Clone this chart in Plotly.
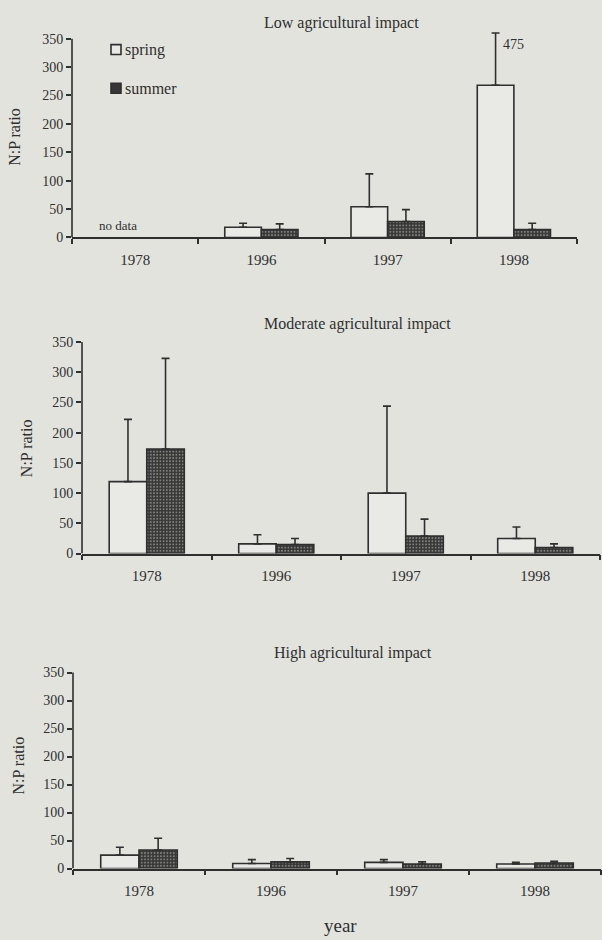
import plotly.graph_objects as go

# ---- data -------------------------------------------------------------
years = ["1978", "1996", "1997", "1998"]

# Mean N:P ratio and upper end of the error bar (mean + SD) per year
low_spring = [None, 18, 54, 268]
low_spring_hi = [None, 25, 112, 475]
low_summer = [None, 14, 28, 14]
low_summer_hi = [None, 24, 49, 25]

mod_spring = [119, 16, 100, 25]
mod_spring_hi = [222, 31, 244, 44]
mod_summer = [173, 15, 29, 10]
mod_summer_hi = [323, 25, 57, 16]

high_spring = [24, 9, 11, 8]
high_spring_hi = [38, 16, 16, 11]
high_summer = [33, 12, 8, 10]
high_summer_hi = [54, 18, 12, 13]

y_ticks = [0, 50, 100, 150, 200, 250, 300, 350]
Y_MAX = 350
ERR_CLIP = 360          # error bars running off the scale are cut here

# ---- styling ----------------------------------------------------------
W, H = 602, 940
PAPER = "#e3e3de"
INK = "#2f2f2f"
SPRING_FILL = "#e9e9e5"
SUMMER_BG = "#363636"
SUMMER_DOT = "#c8c8c2"
FONT = "Liberation Serif, Times New Roman, serif"


def xdom(left, right):
    return [left / W, right / W]


def ydom(top, bottom):
    return [1 - bottom / H, 1 - top / H]


panels = [
    dict(title="Low agricultural impact", spring=low_spring, spring_hi=low_spring_hi,
         summer=low_summer, summer_hi=low_summer_hi,
         xd=(72, 577), y0=239.5, y350=39, title_xy=(342, 23), ylab_xy=(15, 138)),
    dict(title="Moderate agricultural impact", spring=mod_spring, spring_hi=mod_spring_hi,
         summer=mod_summer, summer_hi=mod_summer_hi,
         xd=(82, 600), y0=558.3, y350=345, title_xy=(357, 327), ylab_xy=(26, 452)),
    dict(title="High agricultural impact", spring=high_spring, spring_hi=high_spring_hi,
         summer=high_summer, summer_hi=high_summer_hi,
         xd=(73, 601), y0=876, y350=678.3, title_xy=(353, 659), ylab_xy=(18, 772)),
]


def upper_err(vals, hi):
    out = []
    for v, h in zip(vals, hi):
        if v is None or h is None:
            out.append(0)
        else:
            out.append(min(h, ERR_CLIP) - v)
    return out


fig = go.Figure()
annotations = []
shapes = []

for i, p in enumerate(panels):
    xa = "x" if i == 0 else f"x{i + 1}"
    ya = "y" if i == 0 else f"y{i + 1}"
    err_style = dict(type="data", symmetric=False, color=INK, thickness=1.6, width=4)

    fig.add_trace(go.Bar(
        x=years, y=p["spring"], xaxis=xa, yaxis=ya, name="spring",
        showlegend=False, cliponaxis=False,
        marker=dict(color=SPRING_FILL, line=dict(color=INK, width=1.6)),
        error_y=dict(array=upper_err(p["spring"], p["spring_hi"]),
                     arrayminus=[0] * len(years), **err_style),
    ))
    fig.add_trace(go.Bar(
        x=years, y=p["summer"], xaxis=xa, yaxis=ya, name="summer",
        showlegend=False, cliponaxis=False,
        marker=dict(color=SUMMER_BG, line=dict(color=INK, width=1.6),
                    pattern=dict(shape=".", fgcolor=SUMMER_DOT, bgcolor=SUMMER_BG,
                                 size=3.2, solidity=0.3)),
        error_y=dict(array=upper_err(p["summer"], p["summer_hi"]),
                     arrayminus=[0] * len(years), **err_style),
    ))

    # the value range leaves a little head-room above 350 for clipped error bars,
    # while the drawn y axis line stops at 350
    px_per_unit = (p["y0"] - p["y350"]) / Y_MAX
    y_top = ERR_CLIP + 2
    top_px = p["y0"] - y_top * px_per_unit

    tick_common = dict(ticks="outside", tickcolor=INK, tickwidth=1.6, ticklen=5,
                       showgrid=False, zeroline=False, fixedrange=True)
    fig.update_layout(**{
        ("xaxis" if i == 0 else f"xaxis{i + 1}"): dict(
            domain=xdom(*p["xd"]), anchor=ya, type="category",
            categoryorder="array", categoryarray=years, range=[-0.5, 3.5],
            tickson="boundaries", ticklabelstandoff=8, showline=True,
            linecolor=INK, linewidth=1.6,
            tickfont=dict(family=FONT, size=15, color=INK), **tick_common),
        ("yaxis" if i == 0 else f"yaxis{i + 1}"): dict(
            domain=ydom(top_px, p["y0"]), anchor=xa, range=[0, y_top],
            tickvals=y_ticks, showline=False,
            tickfont=dict(family=FONT, size=14, color=INK), **tick_common),
    })
    shapes.append(dict(type="line", xref=f"{xa} domain", yref=ya, x0=0, x1=0,
                       y0=0, y1=Y_MAX, line=dict(color=INK, width=1.6)))

    tx, ty = p["title_xy"]
    annotations.append(dict(text=p["title"], x=tx / W, y=1 - ty / H, xref="paper",
                            yref="paper", showarrow=False, xanchor="center",
                            yanchor="middle", font=dict(family=FONT, size=16, color=INK)))
    lx, ly = p["ylab_xy"]
    annotations.append(dict(text="N:P ratio", x=lx / W, y=1 - ly / H, xref="paper",
                            yref="paper", showarrow=False, textangle=-90,
                            xanchor="center", yanchor="middle",
                            font=dict(family=FONT, size=16, color=INK)))

# notes inside the top panel (category positions given by index)
annotations.append(dict(text="no data", x=0, y=0, xref="x", yref="y",
                        showarrow=False, xanchor="center", yanchor="bottom",
                        xshift=-17, yshift=2, font=dict(family=FONT, size=13, color=INK)))
annotations.append(dict(text=str(low_spring_hi[3]), x=3, y=min(low_spring_hi[3], ERR_CLIP),
                        xref="x", yref="y", showarrow=False, xanchor="left",
                        yanchor="top", xshift=-13, yshift=-2,
                        font=dict(family=FONT, size=14, color=INK)))
annotations.append(dict(text="year", x=340 / W, y=1 - 933 / H, xref="paper", yref="paper",
                        showarrow=False, xanchor="center", yanchor="middle",
                        font=dict(family=FONT, size=19, color=INK)))

# key for the two seasons
legend_items = [("spring", SPRING_FILL, 50), ("summer", SUMMER_BG, 89)]
for label, fill, cy in legend_items:
    shapes.append(dict(type="rect", xref="paper", yref="paper",
                       x0=111 / W, x1=121 / W, y0=1 - (cy + 5) / H, y1=1 - (cy - 5) / H,
                       fillcolor=fill, line=dict(color=INK, width=1.6)))
    annotations.append(dict(text=label, x=123 / W, y=1 - cy / H, xref="paper",
                            yref="paper", showarrow=False, xanchor="left",
                            yanchor="middle", font=dict(family=FONT, size=16, color=INK)))

fig.update_layout(
    width=W, height=H, margin=dict(l=0, r=0, t=0, b=0),
    paper_bgcolor=PAPER, plot_bgcolor=PAPER,
    barmode="group", bargap=0.42, bargroupgap=0,
    font=dict(family=FONT, color=INK),
    annotations=annotations, shapes=shapes, showlegend=False,
)

fig.write_html("out.html")
